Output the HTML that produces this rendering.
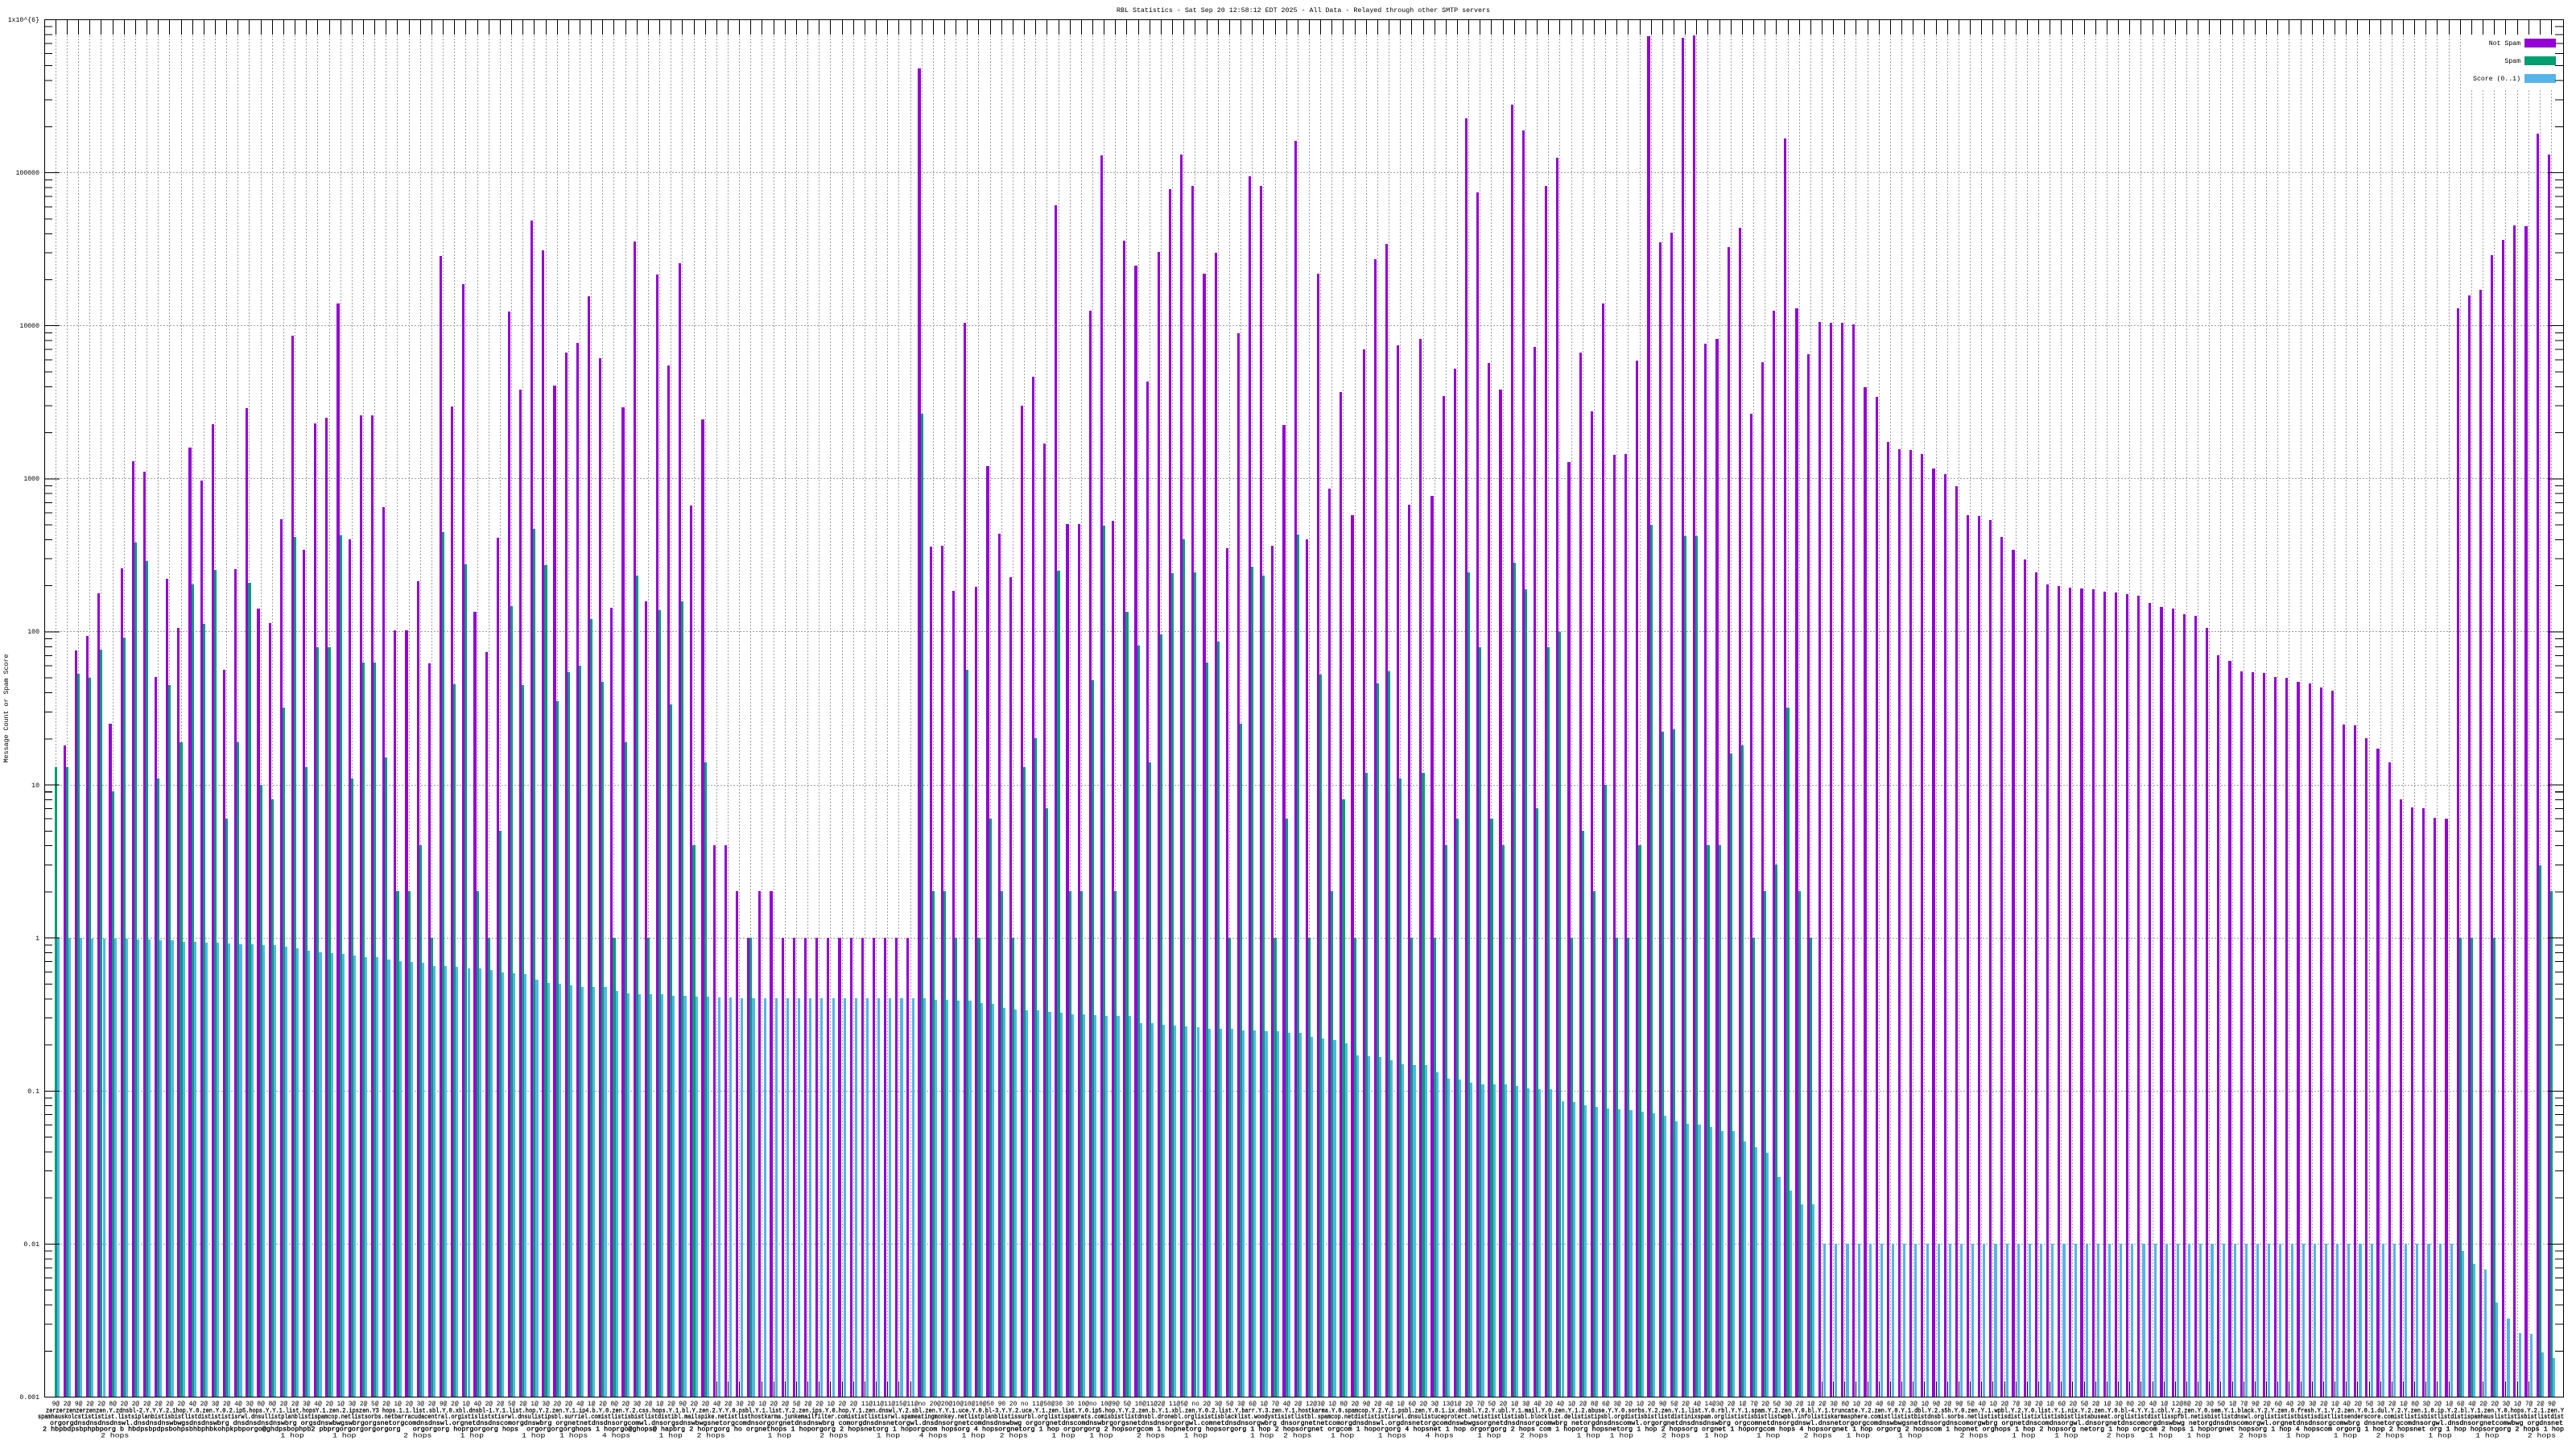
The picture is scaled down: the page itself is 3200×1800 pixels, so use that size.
<!DOCTYPE html>
<html><head><meta charset="utf-8">
<style>
html,body{margin:0;padding:0;background:#fff;}
body{width:3200px;height:1800px;position:relative;overflow:hidden;}
.hg{position:absolute;left:55px;width:3130px;height:1px;background:repeating-linear-gradient(to right,#a0a0a0 0 2px,transparent 2px 4px);z-index:0;}
#grp{position:absolute;left:62.22px;top:24px;width:3115.2px;height:1711px;display:flex;}
#grp b{position:relative;flex:0 0 14.16px;height:1711px;display:block;}
#grp b::before{content:"";position:absolute;left:6.58px;width:1px;top:0;bottom:0;background:repeating-linear-gradient(to bottom,#a0a0a0 0 2px,transparent 2px 4px);z-index:0;}
#grp b::after{content:"";position:absolute;left:6.58px;width:1px;top:0;height:19px;background:#000;box-shadow:0 1692px 0 #000;z-index:0;}
#grp i{position:absolute;top:calc(var(--y,2000) * 1.09694px - 4px);bottom:0;width:3.15px;z-index:1;}
#grp i:nth-child(1){left:2.36px;background:#9400d3;}
#grp i:nth-child(2){left:5.51px;background:#009e73;}
#grp i:nth-child(3){left:8.66px;background:#56b4e9;}
#grp b.t i:nth-child(3){--y:1390;}
.maj{position:absolute;top:23.5px;height:1712px;width:19px;background:repeating-linear-gradient(to bottom,#000 0 1px,transparent 1px 190.11px);z-index:5;}
.min{position:absolute;top:23.5px;height:1712px;width:10px;z-index:5;
background:repeating-linear-gradient(to bottom,transparent 0 8.7px,#000 8.7px 9.7px,transparent 9.7px 18.42px,#000 18.42px 19.42px,transparent 19.42px 29.45px,#000 29.45px 30.45px,transparent 30.45px 42.18px,#000 42.18px 43.18px,transparent 43.18px 57.23px,#000 57.23px 58.23px,transparent 58.23px 75.65px,#000 75.65px 76.65px,transparent 76.65px 99.41px,#000 99.41px 100.41px,transparent 100.41px 132.88px,#000 132.88px 133.88px,transparent 133.88px 190.11px);}
#border{position:absolute;left:55px;top:24px;width:3130px;height:1712px;border:1px solid #000;box-sizing:border-box;z-index:6;}
#legbg{position:absolute;left:3062px;top:43px;width:121px;height:67px;background:#fff;z-index:3;}
.ls{position:absolute;left:3136px;width:39px;height:11px;z-index:4;}
svg#txt{position:absolute;left:0;top:0;z-index:7;}
svg#txt text{font-family:"Liberation Mono","DejaVu Sans Mono",monospace;font-size:8.2px;fill:#000;white-space:pre;}
</style></head>
<body>
<div class="hg" style="top:214px"></div>
<div class="hg" style="top:404px"></div>
<div class="hg" style="top:594px"></div>
<div class="hg" style="top:784px"></div>
<div class="hg" style="top:975px"></div>
<div class="hg" style="top:1165px"></div>
<div class="hg" style="top:1355px"></div>
<div class="hg" style="top:1545px"></div>

<div id="grp">
<b><i></i><i style="--y:851"></i><i style="--y:1044"></i></b>
<b><i style="--y:826"></i><i style="--y:851"></i><i style="--y:1044"></i></b>
<b><i style="--y:718"></i><i style="--y:745"></i><i style="--y:1044"></i></b>
<b><i style="--y:702"></i><i style="--y:749"></i><i style="--y:1045"></i></b>
<b><i style="--y:654"></i><i style="--y:717"></i><i style="--y:1045"></i></b>
<b><i style="--y:801"></i><i style="--y:878"></i><i style="--y:1045"></i></b>
<b><i style="--y:625"></i><i style="--y:704"></i><i style="--y:1045"></i></b>
<b><i style="--y:504"></i><i style="--y:596"></i><i style="--y:1046"></i></b>
<b><i style="--y:516"></i><i style="--y:617"></i><i style="--y:1046"></i></b>
<b><i style="--y:748"></i><i style="--y:863"></i><i style="--y:1047"></i></b>
<b><i style="--y:637"></i><i style="--y:758"></i><i style="--y:1047"></i></b>
<b><i style="--y:693"></i><i style="--y:822"></i><i style="--y:1048"></i></b>
<b><i style="--y:489"></i><i style="--y:644"></i><i style="--y:1048"></i></b>
<b><i style="--y:526"></i><i style="--y:688"></i><i style="--y:1049"></i></b>
<b><i style="--y:462"></i><i style="--y:627"></i><i style="--y:1049"></i></b>
<b><i style="--y:740"></i><i style="--y:909"></i><i style="--y:1050"></i></b>
<b><i style="--y:626"></i><i style="--y:822"></i><i style="--y:1051"></i></b>
<b><i style="--y:444"></i><i style="--y:642"></i><i style="--y:1051"></i></b>
<b><i style="--y:671"></i><i style="--y:871"></i><i style="--y:1052"></i></b>
<b><i style="--y:687"></i><i style="--y:887"></i><i style="--y:1052"></i></b>
<b><i style="--y:570"></i><i style="--y:783"></i><i style="--y:1054"></i></b>
<b><i style="--y:362"></i><i style="--y:590"></i><i style="--y:1056"></i></b>
<b><i style="--y:604"></i><i style="--y:851"></i><i style="--y:1058"></i></b>
<b><i style="--y:461"></i><i style="--y:715"></i><i style="--y:1060"></i></b>
<b><i style="--y:455"></i><i style="--y:715"></i><i style="--y:1061"></i></b>
<b><i style="--y:325"></i><i style="--y:588"></i><i style="--y:1062"></i></b>
<b><i style="--y:593"></i><i style="--y:863"></i><i style="--y:1064"></i></b>
<b><i style="--y:452"></i><i style="--y:732"></i><i style="--y:1066"></i></b>
<b><i style="--y:452"></i><i style="--y:732"></i><i style="--y:1066"></i></b>
<b><i style="--y:556"></i><i style="--y:840"></i><i style="--y:1068"></i></b>
<b><i style="--y:696"></i><i style="--y:991"></i><i style="--y:1070"></i></b>
<b><i style="--y:696"></i><i style="--y:991"></i><i style="--y:1071"></i></b>
<b><i style="--y:640"></i><i style="--y:939"></i><i style="--y:1072"></i></b>
<b><i style="--y:733"></i><i style="--y:1044"></i><i style="--y:1076"></i></b>
<b><i style="--y:272"></i><i style="--y:584"></i><i style="--y:1076"></i></b>
<b><i style="--y:442"></i><i style="--y:757"></i><i style="--y:1077"></i></b>
<b><i style="--y:304"></i><i style="--y:621"></i><i style="--y:1078"></i></b>
<b><i style="--y:675"></i><i style="--y:991"></i><i style="--y:1078"></i></b>
<b><i style="--y:720"></i><i style="--y:1044"></i><i style="--y:1080"></i></b>
<b><i style="--y:591"></i><i style="--y:923"></i><i style="--y:1083"></i></b>
<b><i style="--y:335"></i><i style="--y:668"></i><i style="--y:1084"></i></b>
<b><i style="--y:423"></i><i style="--y:758"></i><i style="--y:1085"></i></b>
<b><i style="--y:232"></i><i style="--y:581"></i><i style="--y:1091"></i></b>
<b><i style="--y:265"></i><i style="--y:622"></i><i style="--y:1095"></i></b>
<b><i style="--y:418"></i><i style="--y:776"></i><i style="--y:1096"></i></b>
<b><i style="--y:381"></i><i style="--y:743"></i><i style="--y:1098"></i></b>
<b><i style="--y:370"></i><i style="--y:736"></i><i style="--y:1099"></i></b>
<b><i style="--y:317"></i><i style="--y:683"></i><i style="--y:1099"></i></b>
<b><i style="--y:387"></i><i style="--y:754"></i><i style="--y:1099"></i></b>
<b><i style="--y:670"></i><i style="--y:1044"></i><i style="--y:1104"></i></b>
<b><i style="--y:443"></i><i style="--y:822"></i><i style="--y:1107"></i></b>
<b><i style="--y:255"></i><i style="--y:634"></i><i style="--y:1108"></i></b>
<b><i style="--y:663"></i><i style="--y:1044"></i><i style="--y:1108"></i></b>
<b><i style="--y:293"></i><i style="--y:673"></i><i style="--y:1108"></i></b>
<b><i style="--y:396"></i><i style="--y:779"></i><i style="--y:1109"></i></b>
<b><i style="--y:280"></i><i style="--y:663"></i><i style="--y:1109"></i></b>
<b><i style="--y:554"></i><i style="--y:939"></i><i style="--y:1110"></i></b>
<b><i style="--y:457"></i><i style="--y:845"></i><i style="--y:1110"></i></b>
<b><i style="--y:939"></i><i></i><i style="--y:1111"></i></b>
<b><i style="--y:939"></i><i></i><i style="--y:1111"></i></b>
<b><i style="--y:991"></i><i></i><i style="--y:1112"></i></b>
<b><i style="--y:1044"></i><i style="--y:1044"></i><i style="--y:1112"></i></b>
<b><i style="--y:991"></i><i></i><i style="--y:1112"></i></b>
<b><i style="--y:991"></i><i></i><i style="--y:1112"></i></b>
<b><i style="--y:1044"></i><i></i><i style="--y:1112"></i></b>
<b><i style="--y:1044"></i><i></i><i style="--y:1112"></i></b>
<b><i style="--y:1044"></i><i></i><i style="--y:1112"></i></b>
<b><i style="--y:1044"></i><i></i><i style="--y:1112"></i></b>
<b><i style="--y:1044"></i><i></i><i style="--y:1112"></i></b>
<b><i style="--y:1044"></i><i></i><i style="--y:1112"></i></b>
<b><i style="--y:1044"></i><i></i><i style="--y:1112"></i></b>
<b><i style="--y:1044"></i><i></i><i style="--y:1112"></i></b>
<b><i style="--y:1044"></i><i></i><i style="--y:1112"></i></b>
<b><i style="--y:1044"></i><i></i><i style="--y:1112"></i></b>
<b><i style="--y:1044"></i><i></i><i style="--y:1112"></i></b>
<b><i style="--y:1044"></i><i></i><i style="--y:1112"></i></b>
<b><i style="--y:59"></i><i style="--y:450"></i><i style="--y:1112"></i></b>
<b><i style="--y:601"></i><i style="--y:991"></i><i style="--y:1114"></i></b>
<b><i style="--y:600"></i><i style="--y:991"></i><i style="--y:1114"></i></b>
<b><i style="--y:651"></i><i style="--y:1044"></i><i style="--y:1115"></i></b>
<b><i style="--y:347"></i><i style="--y:740"></i><i style="--y:1115"></i></b>
<b><i style="--y:646"></i><i style="--y:1044"></i><i style="--y:1118"></i></b>
<b><i style="--y:510"></i><i style="--y:909"></i><i style="--y:1119"></i></b>
<b><i style="--y:586"></i><i style="--y:991"></i><i style="--y:1123"></i></b>
<b><i style="--y:635"></i><i style="--y:1044"></i><i style="--y:1125"></i></b>
<b><i style="--y:441"></i><i style="--y:851"></i><i style="--y:1126"></i></b>
<b><i style="--y:408"></i><i style="--y:818"></i><i style="--y:1126"></i></b>
<b><i style="--y:484"></i><i style="--y:897"></i><i style="--y:1128"></i></b>
<b><i style="--y:214"></i><i style="--y:628"></i><i style="--y:1129"></i></b>
<b><i style="--y:575"></i><i style="--y:991"></i><i style="--y:1130"></i></b>
<b><i style="--y:575"></i><i style="--y:991"></i><i style="--y:1130"></i></b>
<b><i style="--y:334"></i><i style="--y:752"></i><i style="--y:1131"></i></b>
<b><i style="--y:158"></i><i style="--y:577"></i><i style="--y:1132"></i></b>
<b><i style="--y:572"></i><i style="--y:991"></i><i style="--y:1132"></i></b>
<b><i style="--y:254"></i><i style="--y:675"></i><i style="--y:1132"></i></b>
<b><i style="--y:283"></i><i style="--y:713"></i><i style="--y:1140"></i></b>
<b><i style="--y:414"></i><i style="--y:845"></i><i style="--y:1140"></i></b>
<b><i style="--y:267"></i><i style="--y:700"></i><i style="--y:1142"></i></b>
<b><i style="--y:196"></i><i style="--y:631"></i><i style="--y:1143"></i></b>
<b><i style="--y:157"></i><i style="--y:593"></i><i style="--y:1144"></i></b>
<b><i style="--y:192"></i><i style="--y:630"></i><i style="--y:1145"></i></b>
<b><i style="--y:292"></i><i style="--y:732"></i><i style="--y:1147"></i></b>
<b><i style="--y:268"></i><i style="--y:708"></i><i style="--y:1147"></i></b>
<b><i style="--y:603"></i><i style="--y:1044"></i><i style="--y:1147"></i></b>
<b><i style="--y:359"></i><i style="--y:801"></i><i style="--y:1149"></i></b>
<b><i style="--y:181"></i><i style="--y:624"></i><i style="--y:1149"></i></b>
<b><i style="--y:192"></i><i style="--y:634"></i><i style="--y:1150"></i></b>
<b><i style="--y:600"></i><i style="--y:1044"></i><i style="--y:1150"></i></b>
<b><i style="--y:463"></i><i style="--y:909"></i><i style="--y:1151"></i></b>
<b><i style="--y:141"></i><i style="--y:587"></i><i style="--y:1151"></i></b>
<b><i style="--y:593"></i><i style="--y:1044"></i><i style="--y:1156"></i></b>
<b><i style="--y:292"></i><i style="--y:746"></i><i style="--y:1158"></i></b>
<b><i style="--y:535"></i><i style="--y:991"></i><i style="--y:1160"></i></b>
<b><i style="--y:426"></i><i style="--y:887"></i><i style="--y:1163"></i></b>
<b><i style="--y:565"></i><i style="--y:1044"></i><i style="--y:1177"></i></b>
<b><i style="--y:377"></i><i style="--y:857"></i><i style="--y:1178"></i></b>
<b><i style="--y:275"></i><i style="--y:756"></i><i style="--y:1179"></i></b>
<b><i style="--y:258"></i><i style="--y:742"></i><i style="--y:1182"></i></b>
<b><i style="--y:373"></i><i style="--y:863"></i><i style="--y:1187"></i></b>
<b><i style="--y:553"></i><i style="--y:1044"></i><i style="--y:1188"></i></b>
<b><i style="--y:366"></i><i style="--y:857"></i><i style="--y:1188"></i></b>
<b><i style="--y:543"></i><i style="--y:1044"></i><i style="--y:1196"></i></b>
<b><i style="--y:430"></i><i style="--y:939"></i><i style="--y:1203"></i></b>
<b><i style="--y:399"></i><i style="--y:909"></i><i style="--y:1204"></i></b>
<b><i style="--y:116"></i><i style="--y:630"></i><i style="--y:1208"></i></b>
<b><i style="--y:200"></i><i style="--y:715"></i><i style="--y:1210"></i></b>
<b><i style="--y:393"></i><i style="--y:909"></i><i style="--y:1210"></i></b>
<b><i style="--y:423"></i><i style="--y:939"></i><i style="--y:1210"></i></b>
<b><i style="--y:100"></i><i style="--y:619"></i><i style="--y:1212"></i></b>
<b><i style="--y:129"></i><i style="--y:649"></i><i style="--y:1214"></i></b>
<b><i style="--y:375"></i><i style="--y:897"></i><i style="--y:1215"></i></b>
<b><i style="--y:192"></i><i style="--y:715"></i><i style="--y:1215"></i></b>
<b><i style="--y:160"></i><i style="--y:697"></i><i style="--y:1229"></i></b>
<b><i style="--y:505"></i><i style="--y:1044"></i><i style="--y:1230"></i></b>
<b><i style="--y:381"></i><i style="--y:923"></i><i style="--y:1233"></i></b>
<b><i style="--y:448"></i><i style="--y:991"></i><i style="--y:1235"></i></b>
<b><i style="--y:325"></i><i style="--y:871"></i><i style="--y:1237"></i></b>
<b><i style="--y:497"></i><i style="--y:1044"></i><i style="--y:1238"></i></b>
<b><i style="--y:496"></i><i style="--y:1044"></i><i style="--y:1239"></i></b>
<b><i style="--y:390"></i><i style="--y:939"></i><i style="--y:1241"></i></b>
<b><i style="--y:23"></i><i style="--y:576"></i><i style="--y:1243"></i></b>
<b><i style="--y:256"></i><i style="--y:810"></i><i style="--y:1245"></i></b>
<b><i style="--y:245"></i><i style="--y:808"></i><i style="--y:1252"></i></b>
<b><i style="--y:25"></i><i style="--y:589"></i><i style="--y:1254"></i></b>
<b><i style="--y:22"></i><i style="--y:589"></i><i style="--y:1255"></i></b>
<b><i style="--y:371"></i><i style="--y:939"></i><i style="--y:1258"></i></b>
<b><i style="--y:366"></i><i style="--y:939"></i><i style="--y:1263"></i></b>
<b><i style="--y:262"></i><i style="--y:835"></i><i style="--y:1263"></i></b>
<b><i style="--y:240"></i><i style="--y:826"></i><i style="--y:1274"></i></b>
<b><i style="--y:450"></i><i style="--y:1044"></i><i style="--y:1281"></i></b>
<b><i style="--y:392"></i><i style="--y:991"></i><i style="--y:1287"></i></b>
<b><i style="--y:334"></i><i style="--y:961"></i><i style="--y:1315"></i></b>
<b><i style="--y:139"></i><i style="--y:783"></i><i style="--y:1330"></i></b>
<b><i style="--y:331"></i><i style="--y:991"></i><i style="--y:1346"></i></b>
<b><i style="--y:383"></i><i style="--y:1044"></i><i style="--y:1346"></i></b>
<b class="t"><i style="--y:346"></i><i></i><i></i></b>
<b class="t"><i style="--y:347"></i><i></i><i></i></b>
<b class="t"><i style="--y:347"></i><i></i><i></i></b>
<b class="t"><i style="--y:349"></i><i></i><i></i></b>
<b class="t"><i style="--y:420"></i><i></i><i></i></b>
<b class="t"><i style="--y:431"></i><i></i><i></i></b>
<b class="t"><i style="--y:482"></i><i></i><i></i></b>
<b class="t"><i style="--y:490"></i><i></i><i></i></b>
<b class="t"><i style="--y:491"></i><i></i><i></i></b>
<b class="t"><i style="--y:496"></i><i></i><i></i></b>
<b class="t"><i style="--y:512"></i><i></i><i></i></b>
<b class="t"><i style="--y:519"></i><i></i><i></i></b>
<b class="t"><i style="--y:532"></i><i></i><i></i></b>
<b class="t"><i style="--y:565"></i><i></i><i></i></b>
<b class="t"><i style="--y:566"></i><i></i><i></i></b>
<b class="t"><i style="--y:571"></i><i></i><i></i></b>
<b class="t"><i style="--y:590"></i><i></i><i></i></b>
<b class="t"><i style="--y:604"></i><i></i><i></i></b>
<b class="t"><i style="--y:615"></i><i></i><i></i></b>
<b class="t"><i style="--y:630"></i><i></i><i></i></b>
<b class="t"><i style="--y:644"></i><i></i><i></i></b>
<b class="t"><i style="--y:645"></i><i></i><i></i></b>
<b class="t"><i style="--y:647"></i><i></i><i></i></b>
<b class="t"><i style="--y:648"></i><i></i><i></i></b>
<b class="t"><i style="--y:649"></i><i></i><i></i></b>
<b class="t"><i style="--y:652"></i><i></i><i></i></b>
<b class="t"><i style="--y:653"></i><i></i><i></i></b>
<b class="t"><i style="--y:655"></i><i></i><i></i></b>
<b class="t"><i style="--y:656"></i><i></i><i></i></b>
<b class="t"><i style="--y:665"></i><i></i><i></i></b>
<b class="t"><i style="--y:669"></i><i></i><i></i></b>
<b class="t"><i style="--y:671"></i><i></i><i></i></b>
<b class="t"><i style="--y:677"></i><i></i><i></i></b>
<b class="t"><i style="--y:679"></i><i></i><i></i></b>
<b class="t"><i style="--y:693"></i><i></i><i></i></b>
<b class="t"><i style="--y:724"></i><i></i><i></i></b>
<b class="t"><i style="--y:730"></i><i></i><i></i></b>
<b class="t"><i style="--y:742"></i><i></i><i></i></b>
<b class="t"><i style="--y:743"></i><i></i><i></i></b>
<b class="t"><i style="--y:744"></i><i></i><i></i></b>
<b class="t"><i style="--y:748"></i><i></i><i></i></b>
<b class="t"><i style="--y:749"></i><i></i><i></i></b>
<b class="t"><i style="--y:754"></i><i></i><i></i></b>
<b class="t"><i style="--y:756"></i><i></i><i></i></b>
<b class="t"><i style="--y:760"></i><i></i><i></i></b>
<b class="t"><i style="--y:764"></i><i></i><i></i></b>
<b class="t"><i style="--y:802"></i><i></i><i></i></b>
<b class="t"><i style="--y:803"></i><i></i><i></i></b>
<b class="t"><i style="--y:818"></i><i></i><i></i></b>
<b class="t"><i style="--y:830"></i><i></i><i></i></b>
<b class="t"><i style="--y:845"></i><i></i><i></i></b>
<b class="t"><i style="--y:887"></i><i></i><i></i></b>
<b class="t"><i style="--y:896"></i><i></i><i></i></b>
<b class="t"><i style="--y:897"></i><i></i><i></i></b>
<b class="t"><i style="--y:908"></i><i></i><i></i></b>
<b class="t"><i style="--y:909"></i><i></i><i></i></b>
<b><i style="--y:331"></i><i style="--y:1044"></i><i style="--y:1398"></i></b>
<b><i style="--y:316"></i><i style="--y:1044"></i><i style="--y:1413"></i></b>
<b><i style="--y:310"></i><i></i><i style="--y:1419"></i></b>
<b><i style="--y:271"></i><i style="--y:1044"></i><i style="--y:1457"></i></b>
<b><i style="--y:253"></i><i></i><i style="--y:1475"></i></b>
<b><i style="--y:237"></i><i></i><i style="--y:1491"></i></b>
<b><i style="--y:238"></i><i></i><i style="--y:1492"></i></b>
<b><i style="--y:133"></i><i style="--y:962"></i><i style="--y:1513"></i></b>
<b><i style="--y:157"></i><i style="--y:991"></i><i style="--y:1520"></i></b>
</div>

<div id="legbg"></div>
<div class="ls" style="top:48px;background:#9400d3"></div>
<div class="ls" style="top:70px;background:#009e73"></div>
<div class="ls" style="top:92px;background:#56b4e9"></div>

<div class="maj" style="left:55px"></div>
<div class="min" style="left:55px"></div>
<div class="maj" style="left:3165px"></div>
<div class="min" style="left:3174px"></div>
<div id="border"></div>

<svg id="txt" width="3200" height="1800" xmlns="http://www.w3.org/2000/svg" xml:space="preserve">
<text x="1619" y="15" text-anchor="middle" textLength="464" lengthAdjust="spacingAndGlyphs">RBL Statistics - Sat Sep 20 12:58:12 EDT 2025 - All Data - Relayed through other SMTP servers</text>
<text transform="translate(10.2,880) rotate(-90)" text-anchor="middle" textLength="135" lengthAdjust="spacingAndGlyphs">Message Count or Spam Score</text>
<text x="49" y="27" text-anchor="end">1x10^{6}</text>
<text x="49" y="217" text-anchor="end">100000</text>
<text x="49" y="407" text-anchor="end">10000</text>
<text x="49" y="597" text-anchor="end">1000</text>
<text x="49" y="787" text-anchor="end">100</text>
<text x="49" y="978" text-anchor="end">10</text>
<text x="49" y="1168" text-anchor="end">1</text>
<text x="49" y="1358" text-anchor="end">0.1</text>
<text x="49" y="1548" text-anchor="end">0.01</text>
<text x="49" y="1738" text-anchor="end">0.001</text>
<text x="3131" y="56" text-anchor="end">Not Spam</text>
<text x="3131" y="78" text-anchor="end">Spam</text>
<text x="3131" y="100" text-anchor="end">Score (0..1)</text>
<text x="64.6" y="1746" textLength="3110" lengthAdjust="spacingAndGlyphs">9@ 2@ 9@ 2@ 2@ 8@ 2@ 2@ 2@ 2@ 2@ 2@ 4@ 2@ 3@ 2@ 4@ 3@ 8@ 8@ 2@ 2@ 3@ 4@ 2@ 1@ 3@ 2@ 5@ 2@ 1@ 2@ 3@ 2@ 9@ 2@ 1@ 4@ 2@ 2@ 5@ 2@ 1@ 3@ 2@ 2@ 4@ 1@ 2@ 8@ 2@ 3@ 2@ 1@ 2@ 9@ 2@ 2@ 4@ 2@ 3@ 2@ 1@ 2@ 2@ 5@ 2@ 2@ 1@ 2@ 2@ 11@11@11@15@11@no 20@20@10@10@10@50 90 20 no 11@50@30 30 10@no 10@9@ 5@ 10@11@2@ 11@5@ no 2@ 3@ 5@ 3@ 6@ 1@ 7@ 4@ 2@ 12@3@ 1@ 8@ 2@ 9@ 2@ 4@ 1@ 6@ 2@ 3@ 13@1@ 2@ 7@ 5@ 2@ 1@ 3@ 4@ 2@ 4@ 1@ 2@ 8@ 6@ 3@ 2@ 1@ 2@ 9@ 5@ 2@ 4@ 14@3@ 2@ 1@ 7@ 2@ 5@ 3@ 2@ 1@ 2@ 3@ 8@ 1@ 2@ 4@ 6@ 2@ 3@ 1@ 9@ 2@ 9@ 5@ 4@ 1@ 2@ 7@ 3@ 2@ 1@ 6@ 2@ 5@ 2@ 1@ 3@ 8@ 2@ 4@ 1@ 12@8@ 2@ 3@ 5@ 1@ 7@ 9@ 2@ 6@ 4@ 2@ 3@ 2@ 1@ 4@ 2@ 5@ 3@ 2@ 1@ 8@ 3@ 2@ 1@ 6@ 4@ 2@ 2@ 3@ 1@ 7@ 2@ 9@</text>
<text x="57" y="1754.5" textLength="3128" lengthAdjust="spacingAndGlyphs" stroke="#000" stroke-width="0.3">zerzerzenzerzenzen.Y.zdnsbl-2.Y.Y.Y.2.1hop.Y.0.zen.Y.0.2.ip5.hops.Y.Y.1.list.hopsY.1.zen.2.ipszen.Y3 hops.1.1.list.sbl.Y.0.xbl.dnsbl-1.Y.1.list.hop.Y.2.zen.Y.1.ip4.b.Y.0.zen.Y.2.css.hops.Y.1.bl.Y.zen.2.Y.Y.0.psbl.Y.1.list.Y.2.zen.ips.Y.0.hop.Y.1.zen.dnswl.Y.2.sbl.zen.Y.Y.1.uce.Y.0.bl-3.Y.Y.2.uce.Y.1.zen.list.Y.0.ip5.hop.Y.Y.2.zen.b.Y.1.xbl.zen.Y.0.2.list.Y.barr.Y.3.zen.Y.1.hostkarma.Y.0.spamcop.Y.2.Y.1.psbl.zen.Y.0.1.ix.dnsbl.Y.2.Y.ubl.Y.1.mail.Y.0.zen.Y.1.2.abuse.Y.Y.0.sorbs.Y.2.zen.Y.1.list.Y.0.rbl.Y.Y.1.spam.Y.2.zen.Y.0.bl.Y.1.truncate.Y.2.zen.Y.0.Y.1.dbl.Y.2.s5h.Y.0.zen.Y.1.wpbl.Y.2.Y.0.list.Y.1.nix.Y.2.zen.Y.0.bl-4.Y.Y.1.cbl.Y.2.zen.Y.0.sem.Y.1.black.Y.2.Y.zen.0.fresh.Y.1.Y.2.zen.Y.0.1.dul.Y.2.Y.zen.1.0.ip.Y.2.bl.Y.1.zen.Y.0.hops.Y.2.1.zen.Y</text>
<text x="47" y="1762" textLength="3138" lengthAdjust="spacingAndGlyphs" stroke="#000" stroke-width="0.3">spamhauskolcstististist.listsiplanbistisbistlistdistististisrwl.dnsullistplanblistispamcop.netlistsorbs.netbarracudacentral.orgistisliststisrwl.dnsulistipsbl.surriel.comistlistisbistlistdistibl.mailspike.netistlisthostkarma.junkemailfilter.comististlistisrwl.spameatingmonkey.netlistplanblistissurbl.orglistispamrats.comisbistlistdnsbl.dronebl.orglisistisblacklist.woodystisistlistbl.spamcop.netdistististisrwl.dnsulistuceprotect.netististlistisbl.blocklist.delististipsbl.orgdistisbistlistdistinixspam.orglististisbistlistwpbl.infolistiskarmasphere.comistlististbistdnsbl.sorbs.netlististisdistlistixlistisbistlistabuseat.orglististdistlisspfbl.netisbistlistdnswl.orglistististbistisdistlistsenderscore.comistlistisbistlistdistispamhauslististisbistlistdist</text>
<text x="62" y="1770" textLength="3122" lengthAdjust="spacingAndGlyphs" stroke="#000" stroke-width="0.3">orgorgdnsdnsdnsdnswl.dnsdnsdnswbwgsdnsdnswbrg dnsdnsdnsdnswbrg orgsdnswbwgswbrgorgsnetorgcomdnsdnswl.orgnetdnsdnscomorgdnswbrg orgnetnetdnsdnsorgcomwl.dnsorgsdnswbwgsnetorgcomdnsorgorgnetdnsdnswbrg comorgdnsdnsnetorgwl.dnsdnsorgnetcomdnsdnswbwg orgorgnetdnscomdnswbrgorgsnetdnsdnsorgorgwl.comnetdnsdnsorgwbrg dnsorgnetnetcomorgdnsdnswl.orgdnsnetorgcomdnswbwgsorgnetdnsdnsorgcomwbrg netorgdnsdnscomwl.orgorgnetdnsdnsdnswbrg orgcomnetdnsorgdnswl.dnsnetorgorgcomdnswbwgsnetdnsorgdnscomorgwbrg orgnetdnscomdnsorgwl.dnsorgnetdnscomorgdnswbwg netorgdnsdnscomorgwl.orgnetdnsdnsorgcomwbrg dnsnetorgcomdnsorgwl.dnsdnsorgnetcomwbwg orgdnsnet</text>
<text x="53" y="1777.5" textLength="3132" lengthAdjust="spacingAndGlyphs" stroke="#000" stroke-width="0.3">2 hbpbdpsbphpbporg b hbdpsbpdpsbohpsbhbphbkohpkpbporgo@ghdpsbophpb2 pbprgorgorgorgorgorg   orgorgorg hoprgorgorg hops  orgorgorgorghops 1 hoprgo@ghops@ hapbrg 2 hoprgorg ho orgnethops 1 hoporgorg 2 hopsnetorg 1 hoporgcom hopsorg 4 hopsorgnetorg 1 hop orgorgorg 2 hopsorgcom 1 hopnetorg hopsorgorg 1 hop 2 hopsorgnet orgcom 1 hoporgorg 4 hopsnet 1 hop orgorgorg 2 hops com 1 hoporg hopsnetorg 1 hop 2 hopsorg orgnet 1 hoporgcom hops 4 hopsorgnet 1 hop orgorg 2 hopscom 1 hopnet orghops 1 hop 2 hopsorg netorg 1 hop orgcom 2 hops 1 hoporgnet hopsorg 1 hop 4 hopscom orgorg 1 hop 2 hopsnet org 1 hop hopsorgorg 2 hops 1 hop</text>
<text x="125" y="1785.5" textLength="3050" lengthAdjust="spacingAndGlyphs">2 hops                                1 hop      1 hop          2 hops      1 hop        1 hop   1 hops   4 hops      1 hop   2 hops         1 hop      2 hops      1 hop    4 hops   1 hop   2 hops     1 hop   1 hop     2 hops    1 hop         1 hop  2 hops    1 hop     1 hops    4 hops     1 hop    2 hops      1 hop  1 hop      2 hops   1 hop      1 hop     2 hops   1 hop      1 hop        2 hops     1 hop    1 hop      2 hops   1 hop   1 hop      2 hops    1 hop     1 hop    2 hops     1 hop     1 hop      2 hops</text>
</svg>
</body></html>
